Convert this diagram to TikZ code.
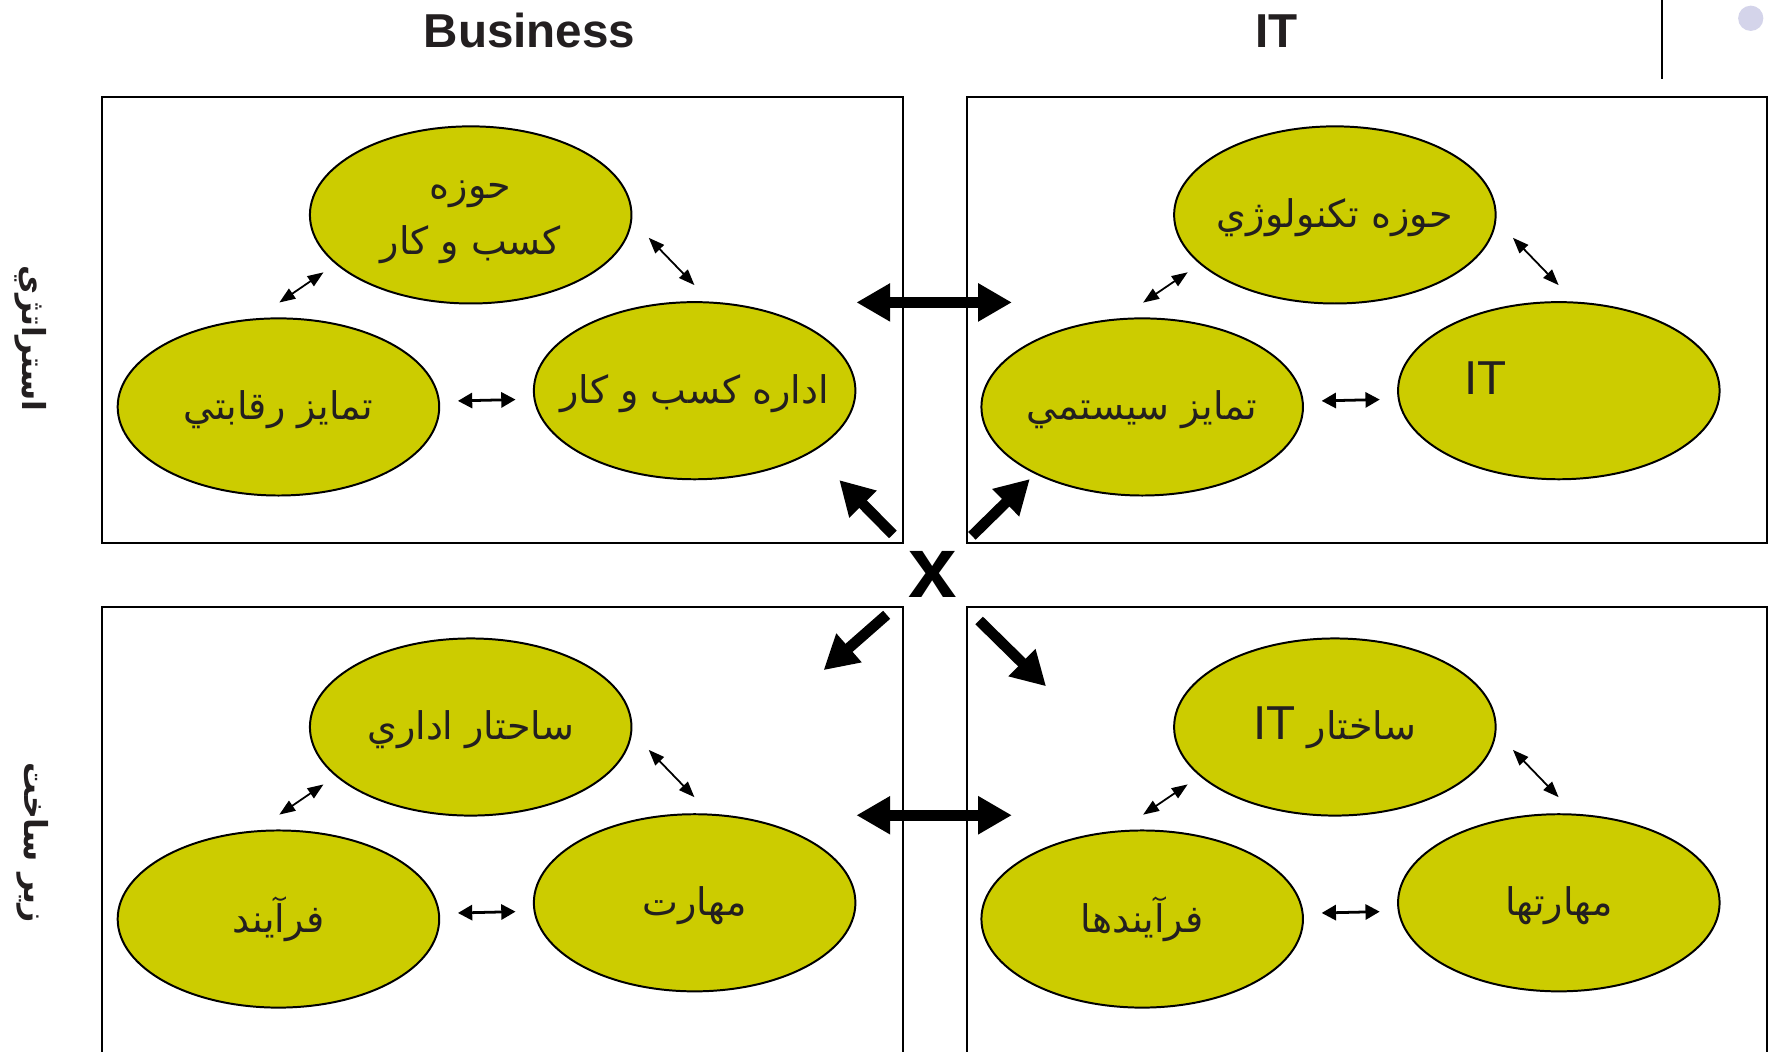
\documentclass[tikz,border=0pt]{standalone}
\usepackage{fontspec}
\setmainfont{Liberation Sans}
\newfontfamily\latinfont{Liberation Sans}
\newfontfamily\arabicfont[Script=Arabic]{DejaVu Sans}
\TeXXeTstate=1
\usetikzlibrary{shapes.geometric}
\usetikzlibrary{arrows.meta}

\definecolor{bubblefill}{HTML}{CCCC00}
\definecolor{ink}{HTML}{231F20}
\definecolor{bulletfill}{HTML}{D4D4EA}

\newcommand{\latinpart}[1]{{\latinfont\fontsize{12}{14}\selectfont #1}}
\newcommand{\rtlline}[1]{\makebox[0pt]{\beginR #1\endR}}

\tikzset{
  panel/.style={draw=black, line width=0.5pt, minimum width=7.095cm, minimum height=3.957cm, inner sep=0pt},
  bubble/.style={ellipse, draw=black, line width=0.5pt, fill=bubblefill, minimum width=2.85cm, minimum height=1.57cm,
    inner sep=0pt, text=ink, align=center, text height=0.33cm, text depth=0.1cm,
    font=\arabicfont\fontsize{9.6}{14.2}\selectfont},
  linkmid/.style={line width=0.7pt, {Triangle[length=3.6pt,width=3.8pt]}-{Triangle[length=3.6pt,width=3.8pt]},
    shorten <=0.16cm, shorten >=0.16cm},
  linkdiag/.style={line width=0.45pt, {Triangle[length=4pt,width=3pt]}-{Triangle[length=4pt,width=3pt]}},
  bigarrow/.style={line width=0.095cm, -{Triangle[length=0.30cm,width=0.32cm]}},
  bigboth/.style={line width=0.095cm, {Triangle[length=0.30cm,width=0.32cm]}-{Triangle[length=0.30cm,width=0.32cm]}},
  heading/.style={font=\bfseries\fontsize{12}{14}\selectfont, text=ink, anchor=base},
  sidelabel/.style={font=\arabicfont\bfseries\fontsize{8}{10}\selectfont, text=ink, rotate=-90},
  crossmark/.style={font=\bfseries\fontsize{22}{24}\selectfont, text=black, inner sep=0pt},
}

\begin{document}
\begin{tikzpicture}

\useasboundingbox (0,0) rectangle (15.68,-9.32);
\clip (0,0) rectangle (15.68,-9.32);

% headings
\node[heading] (business) at (4.694,-0.42) {Business};
\node[heading] (it) at (11.318,-0.42) {IT};
\node[sidelabel] (strategy) at (0.27,-3.00) {\beginR استراتژي\endR};
\node[sidelabel] (infra) at (0.29,-7.47) {\beginR زير ساخت\endR};

\draw[line width=0.45pt] (14.73,0) -- (14.73,-0.70);
\fill[bulletfill] (15.518,-0.162) circle (0.112);

% the four panels
\node[panel] (bs) at (4.4535,-2.8355) {};
\node[panel] (its) at (12.1145,-2.8355) {};
\node[panel, minimum height=4cm] (bi) at (4.4535,-7.376) {};
\node[panel, minimum height=4cm] (ii) at (12.1145,-7.376) {};

% business strategy
\node[bubble, text height=0.8cm, text depth=0.1cm] (bsTop) at (4.172,-1.905) {\rtlline{حوزه}\\\rtlline{كسب و كار}};
\node[bubble] (bsLeft) at (2.468,-3.607) {\rtlline{تمايز رقابتي}};
\node[bubble] (bsRight) at (6.157,-3.463) {\rtlline{اداره كسب و كار}};

% IT strategy
\node[bubble] (itsTop) at (11.832,-1.905) {\rtlline{حوزه تكنولوژي}};
\node[bubble] (itsLeft) at (10.124,-3.607) {\rtlline{تمايز سيستمي}};
\node[bubble, text height=0.6cm] (itsRight) at (13.817,-3.463) {\raisebox{0.216cm}{\latinpart{IT}}\hspace*{1.3cm}};

% business infrastructure
\node[bubble] (biTop) at (4.172,-6.444) {\rtlline{ساحتار اداري}};
\node[bubble] (biLeft) at (2.468,-8.146) {\rtlline{فرآيند}};
\node[bubble] (biRight) at (6.157,-8.002) {\rtlline{مهارت}};

% IT infrastructure
\node[bubble] (iiTop) at (11.832,-6.444) {\rtlline{ساختار \beginL\latinpart{IT}\endL}};
\node[bubble] (iiLeft) at (10.124,-8.146) {\rtlline{فرآيندها}};
\node[bubble] (iiRight) at (13.817,-8.002) {\rtlline{مهارتها}};

% links inside the panels
\draw[linkdiag, shorten <=0.247cm, shorten >=0.129cm] (bsLeft.104.6) -- (bsTop.200);
\draw[linkdiag, shorten <=0.212cm, shorten >=0.203cm] (bsTop.-2.6) -- (bsRight.80.8);
\draw[linkmid] (bsLeft.2.9) -- (bsRight.183);

\draw[linkdiag, shorten <=0.247cm, shorten >=0.129cm] (itsLeft.104.6) -- (itsTop.200);
\draw[linkdiag, shorten <=0.212cm, shorten >=0.203cm] (itsTop.-2.6) -- (itsRight.80.8);
\draw[linkmid] (itsLeft.2.9) -- (itsRight.183);

\draw[linkdiag, shorten <=0.247cm, shorten >=0.129cm] (biLeft.104.6) -- (biTop.200);
\draw[linkdiag, shorten <=0.212cm, shorten >=0.203cm] (biTop.-2.6) -- (biRight.80.8);
\draw[linkmid] (biLeft.2.9) -- (biRight.183);

\draw[linkdiag, shorten <=0.247cm, shorten >=0.129cm] (iiLeft.104.6) -- (iiTop.200);
\draw[linkdiag, shorten <=0.212cm, shorten >=0.203cm] (iiTop.-2.6) -- (iiRight.80.8);
\draw[linkmid] (iiLeft.2.9) -- (iiRight.183);

% links between the panels
\draw[bigboth, shorten <=-0.419cm, shorten >=-0.411cm] ([yshift=0.155cm]bs.east) -- ([yshift=0.155cm]its.west);
\draw[bigboth, shorten <=-0.419cm, shorten >=-0.411cm] ([yshift=0.15cm]bi.east) -- ([yshift=0.15cm]ii.west);

\node[crossmark] (cross) at (8.265,-5.093) {x};
\coordinate (toBs) at (7.439,-4.255);
\coordinate (toIts) at (9.128,-4.246);
\coordinate (toBi) at (7.300,-5.940);
\coordinate (toIi) at (9.272,-6.083);

\draw[bigarrow, shorten <=0.50cm] (cross.center) -- (toBs);
\draw[bigarrow, shorten <=0.49cm] (cross.center) -- (toIts);
\draw[bigarrow, shorten <=0.54cm] (cross.center) -- (toBi);
\draw[bigarrow, shorten <=0.58cm] (cross.center) -- (toIi);

\end{tikzpicture}
\end{document}
